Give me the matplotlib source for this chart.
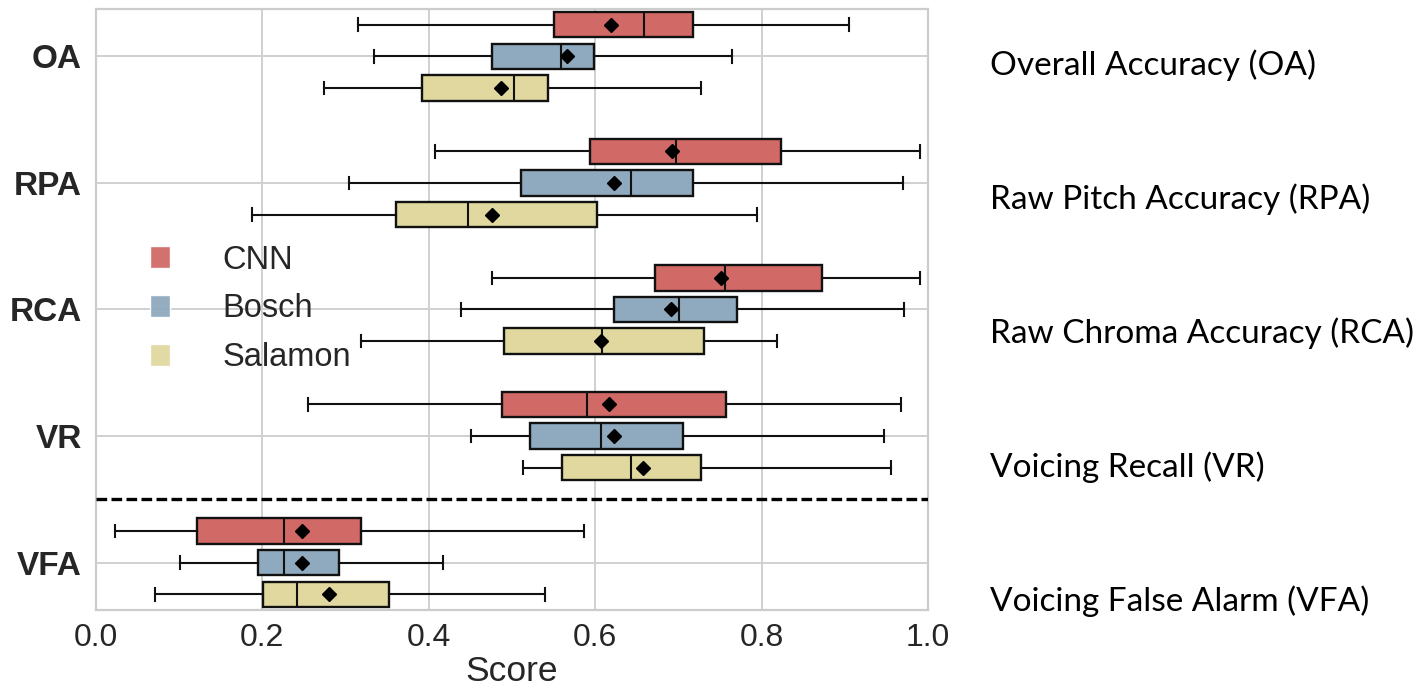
import matplotlib
matplotlib.use("Agg")
import matplotlib.pyplot as plt
from matplotlib.patches import Patch

metrics = ["OA", "RPA", "RCA", "VR", "VFA"]
metric_names = ["Overall Accuracy (OA)", "Raw Pitch Accuracy (RPA)", "Raw Chroma Accuracy (RCA)",
                "Voicing Recall (VR)", "Voicing False Alarm (VFA)"]
models = ["CNN", "Bosch", "Salamon"]
colors = ["#d16967", "#8fa9be", "#e0d89f"]

# each row: whisker low, q1, median, q3, whisker high, mean
cnn = [[0.315, 0.551, 0.659, 0.717, 0.905, 0.619],
       [0.407, 0.594, 0.697, 0.823, 0.990, 0.692],
       [0.476, 0.672, 0.756, 0.873, 0.990, 0.751],
       [0.255, 0.488, 0.590, 0.757, 0.968, 0.617],
       [0.023, 0.121, 0.226, 0.319, 0.587, 0.248]]
bosch = [[0.334, 0.476, 0.559, 0.599, 0.764, 0.566],
         [0.304, 0.511, 0.643, 0.717, 0.970, 0.623],
         [0.439, 0.622, 0.701, 0.770, 0.971, 0.691],
         [0.451, 0.522, 0.607, 0.705, 0.947, 0.623],
         [0.101, 0.195, 0.226, 0.292, 0.417, 0.248]]
salamon = [[0.274, 0.392, 0.502, 0.543, 0.727, 0.487],
           [0.188, 0.360, 0.447, 0.602, 0.794, 0.476],
           [0.318, 0.490, 0.608, 0.731, 0.818, 0.607],
           [0.513, 0.560, 0.643, 0.727, 0.956, 0.657],
           [0.071, 0.201, 0.242, 0.352, 0.540, 0.280]]

plt.rcParams['font.family'] = ['Liberation Sans', 'DejaVu Sans']
fig = plt.figure(figsize=(14.19, 6.91), dpi=100)
ax = fig.add_axes([96 / 1419, 1 - 610 / 691, 832 / 1419, 601 / 691])

for j, (name, table, col) in enumerate(zip(models, [cnn, bosch, salamon], colors)):
    stats = []
    for row in table:
        stats.append(dict(whislo=row[0], q1=row[1], med=row[2], q3=row[3], whishi=row[4], mean=row[5]))
    pos = [i + (j - 1) * 0.25 for i in range(len(metrics))]
    bp = ax.bxp(stats, positions=pos, widths=0.2, orientation='horizontal', patch_artist=True,
                showmeans=True, showfliers=False, manage_ticks=False,
                boxprops=dict(facecolor=col, edgecolor='#111111', linewidth=1.7),
                medianprops=dict(color='#111111', linewidth=1.5),
                whiskerprops=dict(color='#111111', linewidth=1.5),
                capprops=dict(color='#111111', linewidth=1.5),
                meanprops=dict(marker='D', markerfacecolor='black', markeredgecolor='black', markersize=7))

ax.axhline(3.5, color='black', linewidth=2.4, dashes=(3.2, 1.3), zorder=5)

ax.set_xlim(0, 1)
ax.set_ylim(4.375, -0.375)
ax.set_yticks(range(len(metrics)))
ax.set_yticklabels(metrics, fontsize=24, fontweight='bold', color='#262626')
ax.set_xticks([0, 0.2, 0.4, 0.6, 0.8, 1.0])
ax.set_xticklabels(["0.0", "0.2", "0.4", "0.6", "0.8", "1.0"], fontsize=23, color='#262626')
ax.tick_params(axis='both', length=0)
ax.tick_params(axis='y', pad=10)
ax.tick_params(axis='x', pad=9)
ax.set_xlabel("Score", fontsize=25.5, color='#262626', labelpad=2)
ax.grid(True, color='#d0d0d0', linewidth=1.4)
ax.set_axisbelow(True)
for s in ax.spines.values():
    s.set_color('#cccccc')
    s.set_linewidth(1.6)

handles = [Patch(facecolor=c, edgecolor='white', alpha=0.95, label=m) for m, c in zip(models, colors)]
ax.legend(handles=handles, loc='center left', bbox_to_anchor=(150 / 1419, 1 - 309 / 691),
          bbox_transform=fig.transFigure, frameon=False, fontsize=23.5, handlelength=0.62,
          handleheight=0.62, handletextpad=1.6, labelspacing=0.55, borderpad=0, borderaxespad=0,
          labelcolor='#262626')

text_y = [65, 199, 333, 467, 601]
for name, ty in zip(metric_names, text_y):
    fig.text(990 / 1419, 1 - ty / 691, name, fontsize=24, family='Lato', va='center', ha='left', color='black')

fig.savefig("out.png", dpi=100)
